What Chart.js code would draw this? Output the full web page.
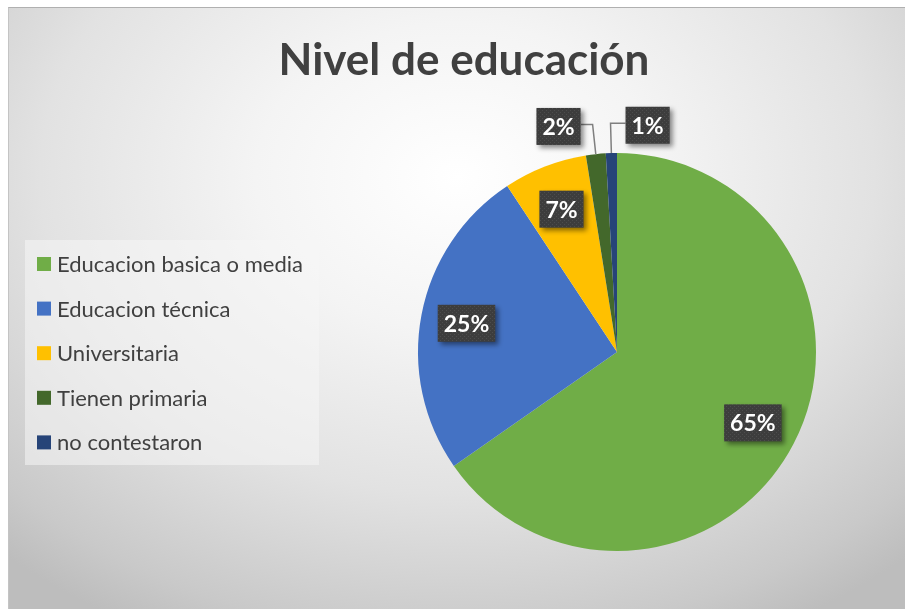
<!DOCTYPE html>
<html>
<head>
<meta charset="utf-8">
<script src="https://cdn.jsdelivr.net/npm/chart.js@4.4.1/dist/chart.umd.min.js"></script>
<style>
  html, body { margin: 0; padding: 0; background: #ffffff; }
  body { width: 905px; height: 609px; position: relative; overflow: hidden; }
  #frame {
    position: absolute; left: 8px; top: 7px; width: 897px; height: 602px;
    border-top: 1px solid #b0b0b0; border-left: 1px solid #c4c4c4;
    background: radial-gradient(ellipse 75% 85% at 50% 28%, #ffffff 0%, #f4f4f4 30%, #e2e2e2 62%, #c9c9c9 90%, #bdbdbd 100%);
  }
  #c { position: absolute; left: 0; top: 0; }
</style>
</head>
<body>
<div id="frame"></div>
<canvas id="c" width="905" height="609"></canvas>
<script>
const chartTitle = "Nivel de educación";
const categories = ["Educacion basica o media", "Educacion técnica", "Universitaria", "Tienen primaria", "no contestaron"];
const shares = [65.3, 25.4, 6.8, 1.6, 0.9];
const sliceColors = ["#70AD47", "#4472C4", "#FFC000", "#43682B", "#264478"];

const FONT = "Lato, 'Open Sans', sans-serif";

function makePattern(ctx) {
  const p = document.createElement('canvas');
  p.width = 4; p.height = 4;
  const pc = p.getContext('2d');
  pc.fillStyle = '#3d3d3d';
  pc.fillRect(0, 0, 4, 4);
  pc.fillStyle = '#4d4d4d';
  pc.fillRect(0, 0, 1, 1);
  pc.fillRect(2, 2, 1, 1);
  return ctx.createPattern(p, 'repeat');
}

const decorPlugin = {
  id: 'decor',
  afterDraw(chart) {
    const ctx = chart.ctx;
    // Title
    ctx.save();
    ctx.fillStyle = '#404040';
    ctx.font = "bold 44px " + FONT;
    ctx.textAlign = 'center';
    ctx.textBaseline = 'middle';
    ctx.fillText(chartTitle, 464, 61);
    ctx.restore();

    // Legend
    ctx.save();
    ctx.fillStyle = 'rgba(246,246,246,0.55)';
    ctx.fillRect(25, 240, 294, 225);
    ctx.font = "22px " + FONT;
    ctx.textBaseline = 'middle';
    ctx.textAlign = 'left';
    chart.data.labels.forEach((lab, i) => {
      const y = 264 + i * 44.6;
      ctx.fillStyle = chart.data.datasets[0].backgroundColor[i];
      ctx.fillRect(37, y - 7, 14, 14);
      ctx.fillStyle = '#404040';
      ctx.fillText(lab, 57, y + 1);
    });
    ctx.restore();

    // Data labels
    const meta = chart.getDatasetMeta(0);
    const data = chart.data.datasets[0].data;
    const total = data.reduce((a, b) => a + b, 0);
    const pattern = makePattern(ctx);
    let smallIdx = 0;
    meta.data.forEach((arc, i) => {
      const p = arc.getProps(['x', 'y', 'startAngle', 'endAngle', 'outerRadius']);
      const mid = (p.startAngle + p.endAngle) / 2;
      const r = p.outerRadius;
      const pct = Math.round(data[i] / total * 100) + '%';
      ctx.save();
      ctx.font = "bold 23px " + FONT;
      const tw = ctx.measureText(pct).width;
      const bw = tw + 12, bh = 37;
      let cx, cy;
      const small = data[i] / total < 0.04;
      if (!small) {
        cx = p.x + Math.cos(mid) * r * 0.77;
        cy = p.y + Math.sin(mid) * r * 0.77;
      } else {
        const ex = p.x + Math.cos(mid) * r * 1.15;
        const ey = p.y + Math.sin(mid) * r * 1.15;
        const sx = p.x + Math.cos(mid) * r;
        const sy = p.y + Math.sin(mid) * r;
        const left = (smallIdx % 2 === 0);
        smallIdx++;
        const edgeX = left ? ex - 12 : ex + 15;
        cx = left ? edgeX - bw / 2 : edgeX + bw / 2;
        cy = ey + 2;
        ctx.strokeStyle = '#7f7f7f';
        ctx.lineWidth = 1.5;
        ctx.beginPath();
        ctx.moveTo(sx, sy);
        ctx.lineTo(ex, ey);
        ctx.lineTo(edgeX, ey);
        ctx.stroke();
      }
      ctx.shadowColor = 'rgba(0,0,0,0.45)';
      ctx.shadowBlur = 5;
      ctx.shadowOffsetX = 3;
      ctx.shadowOffsetY = 3;
      ctx.fillStyle = pattern;
      ctx.fillRect(cx - bw / 2, cy - bh / 2, bw, bh);
      ctx.shadowColor = 'transparent';
      ctx.fillStyle = '#ffffff';
      ctx.textAlign = 'center';
      ctx.textBaseline = 'middle';
      ctx.fillText(pct, cx, cy + 1);
      ctx.restore();
    });
  }
};

new Chart(document.getElementById('c'), {
  type: 'pie',
  data: {
    labels: categories,
    datasets: [{
      data: shares,
      backgroundColor: sliceColors,
      borderWidth: 0,
      hoverOffset: 0
    }]
  },
  options: {
    responsive: false,
    animation: false,
    events: [],
    layout: { padding: { left: 418, right: 89, top: 153, bottom: 58 } },
    plugins: {
      legend: { display: false },
      title: { display: false },
      tooltip: { enabled: false }
    }
  },
  plugins: [decorPlugin]
});
</script>
</body>
</html>
